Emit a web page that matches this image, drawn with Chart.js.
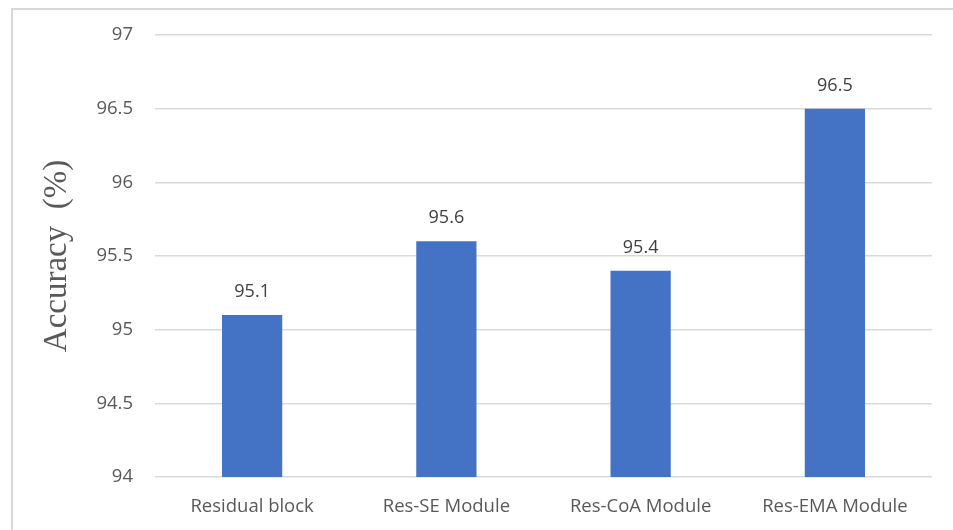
<!DOCTYPE html>
<html>
<head>
<meta charset="utf-8">
<script src="https://cdn.jsdelivr.net/npm/chart.js@4/dist/chart.umd.min.js"></script>
<style>
  html, body { margin: 0; padding: 0; background: #fff; }
  #wrap { position: relative; width: 953px; height: 530px; overflow: hidden; }
  #frame { position: absolute; left: 11px; top: 8px; width: 960px; height: 540px;
           border-left: 2px solid #d9d9d9; border-top: 2px solid #d9d9d9; box-sizing: border-box; }
  canvas { position: absolute; left: 0; top: 0; }
</style>
</head>
<body>
<div id="wrap">
  <div id="frame"></div>
  <canvas id="c" width="953" height="530"></canvas>
</div>
<script>
const categories = ['Residual block', 'Res-SE Module', 'Res-CoA Module', 'Res-EMA Module'];
const accuracy = [95.1, 95.6, 95.4, 96.5];
const yTicks = [94, 94.5, 95, 95.5, 96, 96.5, 97];

const labelFont = "'Open Sans', 'Liberation Sans', sans-serif";

// Writes each bar's value just above its top edge
const valueLabels = {
  id: 'valueLabels',
  afterDatasetsDraw(chart) {
    const ctx = chart.ctx;
    ctx.save();
    ctx.font = '18px ' + labelFont;
    ctx.fillStyle = '#404040';
    ctx.textAlign = 'center';
    ctx.textBaseline = 'middle';
    chart.getDatasetMeta(0).data.forEach((bar, i) => {
      ctx.fillText(String(accuracy[i]), bar.x, bar.y - 23);
    });
    ctx.restore();
  }
};

new Chart(document.getElementById('c'), {
  type: 'bar',
  data: {
    labels: categories,
    datasets: [{
      data: accuracy,
      backgroundColor: '#4472C4',
      borderWidth: 0,
      categoryPercentage: 1,
      barPercentage: 0.31
    }]
  },
  options: {
    responsive: false,
    animation: false,
    layout: { padding: { top: 35, right: 21, left: 0, bottom: 0 } },
    plugins: { legend: { display: false }, tooltip: { enabled: false } },
    scales: {
      x: {
        grid: { display: false, drawTicks: false },
        border: { display: false },
        ticks: { color: '#595959', font: { family: labelFont, size: 18.5 }, padding: 19 },
        afterFit(scale) { scale.height = 53; }
      },
      y: {
        min: 94,
        max: 97,
        afterBuildTicks(scale) { scale.ticks = yTicks.map(v => ({ value: v })); },
        grid: { color: '#d9d9d9', lineWidth: 1.5, drawTicks: false },
        border: { display: false },
        ticks: {
          color: '#595959',
          font: { family: labelFont, size: 18.5 },
          padding: 22,
          callback: (v) => String(v)
        },
        title: {
          display: true,
          text: 'Accuracy  (%)',
          color: '#595959',
          font: { family: "'Liberation Serif', 'Times New Roman', serif", size: 33 },
          padding: { top: 38, bottom: 0 }
        },
        afterFit(scale) { scale.width = 155; }
      }
    }
  },
  plugins: [valueLabels]
});
</script>
</body>
</html>
